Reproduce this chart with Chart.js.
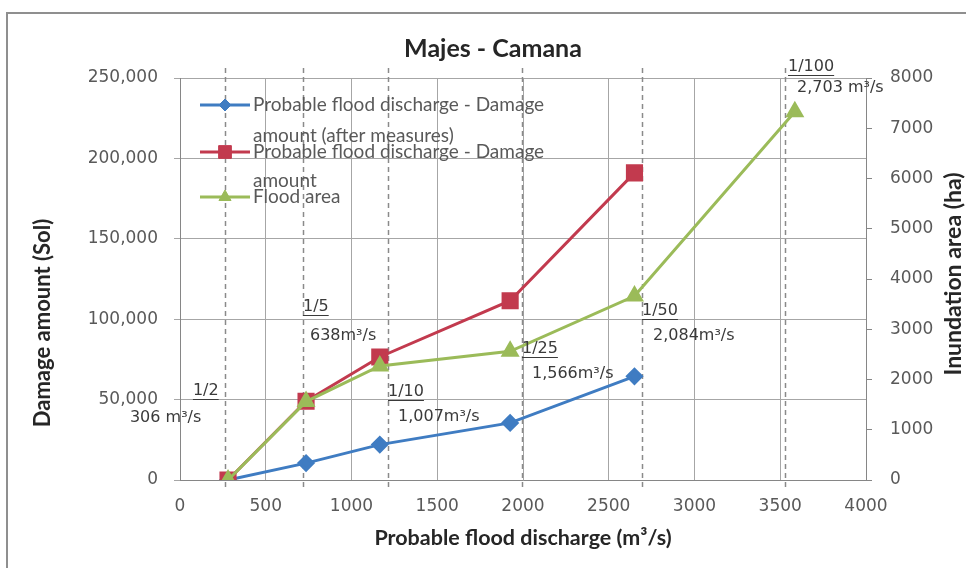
<!DOCTYPE html>
<html>
<head>
<meta charset="utf-8">
<title>Majes - Camana</title>
<script src="https://cdn.jsdelivr.net/npm/chart.js@4.4.1/dist/chart.umd.min.js"></script>
<style>
  html, body { margin: 0; padding: 0; background: #ffffff; }
  #wrap { position: relative; width: 966px; height: 568px; overflow: hidden; }
  #frame { position: absolute; left: 6px; top: 12px; width: 980px; height: 580px;
           border-left: 2px solid #8f8f8f; border-top: 2px solid #8f8f8f; box-sizing: border-box; }
  #c { position: absolute; left: 0; top: 0; }
</style>
</head>
<body>
<div id="wrap">
  <div id="frame"></div>
  <canvas id="c" width="966" height="568"></canvas>
</div>
<script>
// Probable flood discharge (m3/s) at each computed point
const discharge     = [280, 735, 1165, 1925, 2650];
const dischargeArea = [280, 735, 1165, 1925, 2650, 3585];

// Damage amount (Sol) and inundated area (ha)
const damageAfterMeasures = [0, 10500, 22000, 35500, 64500];
const damageAmount        = [0, 49000, 76500, 111500, 191000];
const floodArea           = [0, 1560, 2270, 2560, 3660, 7330];

// Return periods and their design discharges
const returnPeriods = ['1/2', '1/5', '1/10', '1/25', '1/50', '1/100'];
const periodFlows   = ['306 m³/s', '638m³/s', '1,007m³/s', '1,566m³/s', '2,084m³/s', '2,703 m³/s'];
const periodLineAt  = [262, 717, 1213, 1994, 2694, 3528];

// Axis tick values
const xTicks      = [0, 500, 1000, 1500, 2000, 2500, 3000, 3500, 4000];
const damageTicks = [0, 50000, 100000, 150000, 200000, 250000];
const areaTicks   = [0, 1000, 2000, 3000, 4000, 5000, 6000, 7000, 8000];

const seriesNames = [
  ['Probable flood discharge - Damage', 'amount (after measures)'],
  ['Probable flood discharge - Damage', 'amount'],
  ['Flood area']
];

// Placement of the return-period labels: offset from the dashed line (px)
// and vertical position in Sol on the damage axis.
const periodLabelPlacement = [
  { dxPeriod: -32, yPeriod: 55400,  dxFlow: -95, yFlow: 38600 },
  { dxPeriod: 0,   yPeriod: 107600, dxFlow: 7,   yFlow: 89500 },
  { dxPeriod: 0,   yPeriod: 54700,  dxFlow: 10,  yFlow: 39200 },
  { dxPeriod: 0,   yPeriod: 81500,  dxFlow: 10,  yFlow: 65900 },
  { dxPeriod: 0,   yPeriod: 105100, dxFlow: 11,  yFlow: 89500 },
  { dxPeriod: 3,   yPeriod: 256800, dxFlow: 12,  yFlow: 244000 }
];

const BLUE = '#3F7CC2';
const RED = '#C23A4E';
const GREEN = '#9BBB59';
const TICK_GREY = '#595959';
const TITLE_INK = '#262626';
const TICK_FONT = { family: '"DejaVu Sans"', size: 17 };

const toPoints = (xs, ys) => ys.map((v, i) => ({ x: xs[i], y: v }));

// Dashed return-period lines and their labels
const returnPeriodPlugin = {
  id: 'returnPeriods',
  beforeDatasetsDraw(chart) {
    const { ctx, chartArea, scales } = chart;
    ctx.save();
    ctx.strokeStyle = '#8a8a8a';
    ctx.lineWidth = 1.5;
    ctx.setLineDash([5, 4]);
    periodLineAt.forEach(v => {
      const x = Math.round(scales.x.getPixelForValue(v)) + 0.5;
      ctx.beginPath();
      ctx.moveTo(x, chartArea.top - 10);
      ctx.lineTo(x, chartArea.bottom + 10);
      ctx.stroke();
    });
    ctx.restore();
  },
  afterDraw(chart) {
    const { ctx, scales } = chart;
    ctx.save();
    ctx.font = '16px "DejaVu Sans"';
    ctx.fillStyle = '#3a3a3a';
    ctx.textBaseline = 'middle';
    ctx.textAlign = 'left';
    returnPeriods.forEach((label, i) => {
      const p = periodLabelPlacement[i];
      const lx = scales.x.getPixelForValue(periodLineAt[i]);
      const x1 = lx + p.dxPeriod;
      const y1 = scales.y.getPixelForValue(p.yPeriod);
      ctx.fillText(label, x1, y1);
      const w = ctx.measureText(label).width;
      ctx.strokeStyle = '#3a3a3a';
      ctx.lineWidth = 1;
      ctx.beginPath();
      ctx.moveTo(x1, Math.round(y1 + 8) + 0.5);
      ctx.lineTo(x1 + w, Math.round(y1 + 8) + 0.5);
      ctx.stroke();
      ctx.fillText(periodFlows[i], lx + p.dxFlow, scales.y.getPixelForValue(p.yFlow));
    });
    ctx.restore();
  }
};

// Vertical axis titles, both reading bottom-to-top
const axisTitlePlugin = {
  id: 'axisTitles',
  afterDraw(chart) {
    const { ctx } = chart;
    const titles = [
      { text: 'Damage amount (Sol)', x: 43, y: 323, size: 22 },
      { text: 'Inundation area (ha)', x: 954, y: 274, size: 23 }
    ];
    ctx.save();
    ctx.fillStyle = TITLE_INK;
    ctx.textAlign = 'center';
    ctx.textBaseline = 'middle';
    titles.forEach(t => {
      ctx.save();
      ctx.font = 'bold ' + t.size + 'px Lato';
      ctx.translate(t.x, t.y);
      ctx.rotate(-Math.PI / 2);
      ctx.fillText(t.text, 0, 0);
      ctx.restore();
    });
    ctx.restore();
  }
};

// Legend drawn inside the plot, with wrapped series names
const insideLegendPlugin = {
  id: 'insideLegend',
  afterDraw(chart) {
    const { ctx } = chart;
    const rows = [
      { y: 105, lines: [105, 136] },
      { y: 152, lines: [152, 181] },
      { y: 197, lines: [197] }
    ];
    ctx.save();
    ctx.font = '19px Lato';
    ctx.textBaseline = 'middle';
    ctx.textAlign = 'left';
    chart.data.datasets.forEach((ds, i) => {
      const r = rows[i];
      ctx.strokeStyle = ds.borderColor;
      ctx.lineWidth = 3;
      ctx.setLineDash([]);
      ctx.beginPath();
      ctx.moveTo(200, r.y);
      ctx.lineTo(250, r.y);
      ctx.stroke();
      ctx.fillStyle = ds.pointBackgroundColor;
      ctx.strokeStyle = ds.pointBorderColor;
      ctx.lineWidth = 1;
      Chart.helpers.drawPoint(ctx, { pointStyle: ds.pointStyle, radius: ds.pointRadius - 1, rotation: 0, borderWidth: 1 }, 225, r.y);
      ctx.fillStyle = TICK_GREY;
      seriesNames[i].forEach((t, k) => ctx.fillText(t, 253, r.lines[k]));
    });
    ctx.restore();
  }
};

const setTicks = values => scale => { scale.ticks = values.map(v => ({ value: v })); };

new Chart(document.getElementById('c'), {
  type: 'line',
  data: {
    datasets: [
      {
        label: seriesNames[0].join(' '),
        data: toPoints(discharge, damageAfterMeasures),
        yAxisID: 'y',
        borderColor: BLUE, backgroundColor: BLUE,
        pointBackgroundColor: BLUE, pointBorderColor: BLUE,
        pointStyle: 'rectRot', pointRadius: 7, borderWidth: 3,
        order: 2
      },
      {
        label: seriesNames[1].join(' '),
        data: toPoints(discharge, damageAmount),
        yAxisID: 'y',
        borderColor: RED, backgroundColor: RED,
        pointBackgroundColor: RED, pointBorderColor: RED,
        pointStyle: 'rect', pointRadius: 10, borderWidth: 3,
        order: 1
      },
      {
        label: seriesNames[2][0],
        data: toPoints(dischargeArea, floodArea),
        yAxisID: 'y2',
        borderColor: GREEN, backgroundColor: GREEN,
        pointBackgroundColor: GREEN, pointBorderColor: GREEN,
        pointStyle: 'triangle', pointRadius: 8, borderWidth: 3,
        order: 0
      }
    ]
  },
  options: {
    responsive: false,
    animation: false,
    events: [],
    layout: { padding: { top: 34, left: 20, right: 0, bottom: 0 } },
    elements: { line: { tension: 0 } },
    plugins: {
      legend: { display: false },
      tooltip: { enabled: false },
      title: {
        display: true,
        text: 'Majes - Camana',
        color: TITLE_INK,
        font: { family: 'Lato', size: 25, weight: 'bold' },
        padding: { top: 0, bottom: 14 }
      }
    },
    scales: {
      x: {
        type: 'linear',
        min: 0, max: 4000,
        afterBuildTicks: setTicks(xTicks),
        afterFit(s) { s.height = 88; },
        grid: { color: '#a6a6a6', drawTicks: false },
        border: { color: '#868686', width: 1 },
        ticks: { color: TICK_GREY, autoSkip: false, maxRotation: 0, padding: 16,
                 font: TICK_FONT, callback: v => String(v) },
        title: {
          display: true,
          text: 'Probable flood discharge (m³/s)',
          color: TITLE_INK,
          font: { family: 'Lato', size: 21.5, weight: 'bold' },
          padding: { top: 0, bottom: 17 }
        }
      },
      y: {
        position: 'left',
        min: 0, max: 250000,
        afterBuildTicks: setTicks(damageTicks),
        afterFit(s) { s.width = 160; },
        grid: { color: '#a6a6a6', tickLength: 6 },
        border: { color: '#868686', width: 1 },
        ticks: { color: TICK_GREY, autoSkip: false, padding: 16, font: TICK_FONT,
                 callback: v => Number(v).toLocaleString('en-US') },
        title: { display: false }
      },
      y2: {
        position: 'right',
        min: 0, max: 8000,
        afterBuildTicks: setTicks(areaTicks),
        afterFit(s) { s.width = 100; },
        grid: { drawOnChartArea: false, color: '#868686', tickLength: 6 },
        border: { color: '#868686', width: 1 },
        ticks: { color: TICK_GREY, autoSkip: false, padding: 18, font: TICK_FONT,
                 callback: v => String(v) },
        title: { display: false }
      }
    }
  },
  plugins: [returnPeriodPlugin, axisTitlePlugin, insideLegendPlugin]
});
</script>
</body>
</html>
